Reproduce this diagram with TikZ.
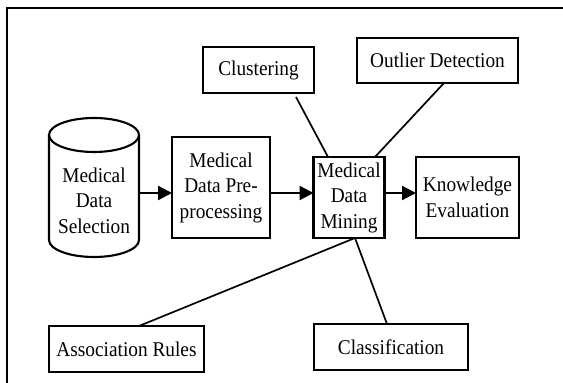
\documentclass[tikz,border=0pt]{standalone}
\usepackage{fontspec}
\setmainfont[FakeStretch=0.92]{Liberation Serif}
\usetikzlibrary{arrows.meta}
\tikzset{
  box/.style={draw, line width=2.1pt, inner sep=0pt, outer sep=0pt, align=center,
    font=\fontsize{21}{25.5}\selectfont},
  txt/.style={inner sep=0pt, outer sep=0pt, align=center, font=\fontsize{21}{25.5}\selectfont},
  link/.style={line width=1.7pt},
  flow/.style={line width=2.2pt, -{Triangle[length=14pt,width=14pt]}},
  frame/.style={line width=2.5pt}
}
\begin{document}
\begin{tikzpicture}[x=1pt,y=1pt]
\useasboundingbox (0,0) rectangle (563,383);
\fill[white] (0,0) rectangle (563,383);
% frame
\coordinate (f0) at (7,0);
\coordinate (f1) at (7,375);
\coordinate (f2) at (563,375);
\draw[frame] (f0) -- (f1) -- (f2);
% nodes
\node[box, minimum width=111pt, minimum height=46pt] (clu) at (258.5,313) {Clustering};
\node[box, minimum width=161pt, minimum height=45pt] (out) at (437.5,322.5) {Outlier Detection};
\node[inner sep=0pt, outer sep=0pt, minimum width=90pt, minimum height=139pt] (sel) at (94,195.5) {};
\node[txt] (selt) at ([yshift=-13pt]sel.center) {Medical\\Data\\Selection};
\node[box, minimum width=98pt, minimum height=101pt] (pre) at (221,195.5) {Medical\\Data Pre-\\processing};
\node[box, minimum width=71pt, minimum height=81pt] (min) at (349,185.5) {Medical\\Data\\Mining};
\node[box, minimum width=103pt, minimum height=81pt] (kno) at (467.5,185.5) {Knowledge\\Evaluation};
\node[box, minimum width=155pt, minimum height=46pt] (ass) at (126.5,34) {Association Rules};
\node[box, minimum width=154pt, minimum height=46pt] (cla) at (391,36) {Classification};
% cylinder
\draw[line width=2.1pt] ([yshift=-17pt]sel.north west) -- ([yshift=17pt]sel.south west)
  arc[start angle=180, end angle=360, x radius=45pt, y radius=17pt]
  -- ([yshift=-17pt]sel.north east);
\draw[line width=2.1pt] ([yshift=-17pt]sel.north) ellipse [x radius=45pt, y radius=17pt];
% arrows
\coordinate (ay) at (0,190);
\draw[flow] (sel.east |- ay) -- (pre.west |- ay);
\draw[flow] (pre.east |- ay) -- (min.west |- ay);
\draw[flow] (min.east |- ay) -- (kno.west |- ay);
% links
\draw[link] ([xshift=37.5pt,yshift=-4pt]clu.south) -- ([xshift=-21pt]min.north);
\draw[link] ([xshift=6.5pt]out.south) -- ([xshift=26pt]min.north);
\draw[link] ([xshift=6pt]min.south) -- ([xshift=12.5pt]ass.north);
\draw[link] ([xshift=6pt]min.south) -- ([xshift=-4pt]cla.north);
\end{tikzpicture}
\end{document}
